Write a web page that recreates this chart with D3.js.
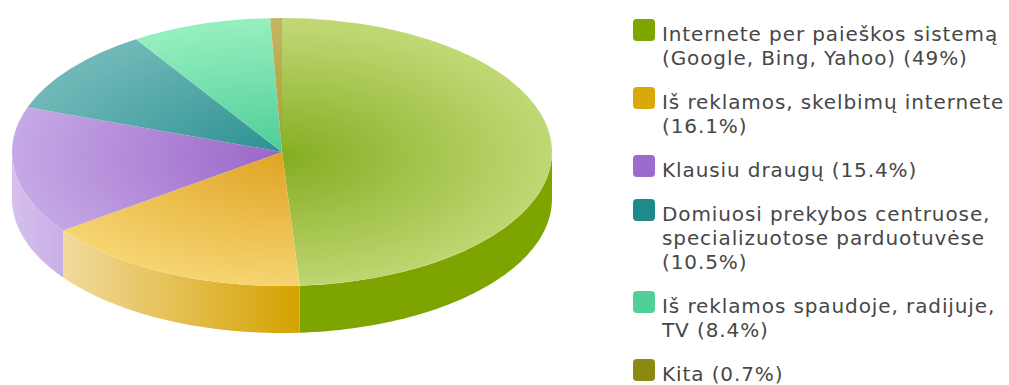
<!DOCTYPE html>
<html>
<head>
<meta charset="utf-8">
<script src="https://cdn.jsdelivr.net/npm/d3@7"></script>
<style>
  body { margin: 0; background: #fff; }
  text { font-family: "DejaVu Sans", Verdana, sans-serif; }
</style>
</head>
<body>
<svg id="chart" width="1009" height="385"></svg>
<script>
// data
const categories = [
  "Internete per paieškos sistemą (Google, Bing, Yahoo)",
  "Iš reklamos, skelbimų internete",
  "Klausiu draugų",
  "Domiuosi prekybos centruose, specializuotose parduotuvėse",
  "Iš reklamos spaudoje, radijuje, TV",
  "Kita"
];
const values = [49, 16.1, 15.4, 10.5, 8.4, 0.7];
// legend text as it wraps in the picture
const legendLines = [
  ["Internete per paieškos sistemą", "(Google, Bing, Yahoo) (49%)"],
  ["Iš reklamos, skelbimų internete", "(16.1%)"],
  ["Klausiu draugų (15.4%)"],
  ["Domiuosi prekybos centruose,", "specializuotose parduotuvėse", "(10.5%)"],
  ["Iš reklamos spaudoje, radijuje,", "TV (8.4%)"],
  ["Kita (0.7%)"]
];

// colours: legend swatch, top centre, top edge, side left, side right
const palette = [
  { key: "#7ea600", topIn: "#86ad22", topOut: "#c0d874", sideL: "#7ea400", sideR: "#7ea400" },
  { key: "#dba80a", topIn: "#e0a526", topOut: "#f6d674", sideL: "#f2da9e", sideR: "#d4a200" },
  { key: "#9c6ccc", topIn: "#9a66c8", topOut: "#c6a8e6", sideL: "#d6c0ee", sideR: "#c8aee6" },
  { key: "#1f8a8a", topIn: "#2a9090", topOut: "#70b8b8", sideL: "#5aa8a8", sideR: "#5aa8a8" },
  { key: "#50d098", topIn: "#4ccc98", topOut: "#94eebe", sideL: "#70dca8", sideR: "#70dca8" },
  { key: "#8a8a10", topIn: "#a89a34", topOut: "#c4b460", sideL: "#9a9020", sideR: "#9a9020" }
];

const svg = d3.select("#chart");
const defs = svg.append("defs");

// pie geometry
const cx = 282, cy = 152, rx = 270, ry = 134, depth = 47;

const pie = d3.pie().sort(null).value(d => d)(values);

// gradients
pie.forEach((d, i) => {
  const rg = defs.append("radialGradient")
    .attr("id", "top" + i)
    .attr("gradientUnits", "userSpaceOnUse")
    .attr("cx", 0).attr("cy", 10).attr("r", rx);
  rg.append("stop").attr("offset", "0%").attr("stop-color", palette[i].topIn);
  rg.append("stop").attr("offset", "100%").attr("stop-color", palette[i].topOut);
});

// point on the top rim for an angle (0 = 12 o'clock, clockwise)
const rim = (a, dy) => [cx + rx * Math.sin(a), cy - ry * Math.cos(a) + dy];

// side walls, only the front half can be seen
const sides = svg.append("g");
pie.forEach((d, i) => {
  const s = Math.max(d.startAngle, Math.PI / 2);
  const e = Math.min(d.endAngle, Math.PI * 3 / 2);
  if (s >= e) return;
  const steps = d3.range(0, 61).map(k => s + (e - s) * k / 60);
  const pts = steps.map(a => rim(a, 0)).concat(steps.slice().reverse().map(a => rim(a, depth)));
  const xs = pts.map(p => p[0]);
  const lg = defs.append("linearGradient")
    .attr("id", "side" + i)
    .attr("gradientUnits", "userSpaceOnUse")
    .attr("x1", d3.min(xs)).attr("x2", d3.max(xs))
    .attr("y1", 0).attr("y2", 0);
  lg.append("stop").attr("offset", "0%").attr("stop-color", palette[i].sideL);
  lg.append("stop").attr("offset", "100%").attr("stop-color", palette[i].sideR);
  sides.append("path")
    .attr("d", d3.line()(pts) + "Z")
    .attr("fill", `url(#side${i})`);
});

// top face: circle arcs squashed into an ellipse
const arc = d3.arc().innerRadius(0).outerRadius(rx);
svg.append("g")
  .attr("transform", `translate(${cx},${cy}) scale(1,${ry / rx})`)
  .selectAll("path")
  .data(pie)
  .enter()
  .append("path")
  .attr("d", arc)
  .attr("fill", (d, i) => `url(#top${i})`);

// legend
const lineH = 24, itemGap = 44;
const legend = svg.append("g").attr("transform", "translate(633,0)");
let y = 41;
legendLines.forEach((lines, i) => {
  legend.append("rect")
    .attr("x", 0).attr("y", y - 22)
    .attr("width", 22).attr("height", 22)
    .attr("rx", 4)
    .attr("fill", palette[i].key);
  const t = legend.append("text")
    .attr("x", 29).attr("y", y)
    .attr("fill", "#474747")
    .style("font-size", "20px")
    .style("letter-spacing", "0.9px");
  lines.forEach((l, j) => {
    t.append("tspan").attr("x", 29).attr("y", y + j * lineH).text(l);
  });
  y += (lines.length - 1) * lineH + itemGap;
});
</script>
</body>
</html>
